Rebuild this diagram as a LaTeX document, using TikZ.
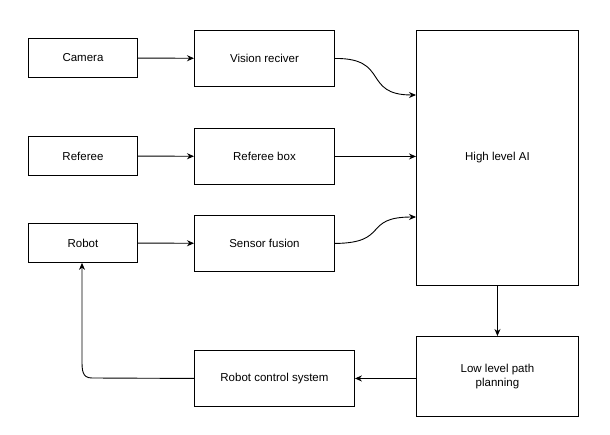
\documentclass[tikz,border=0pt]{standalone}
\usepackage{fontspec}
\setmainfont{Liberation Sans}
\usetikzlibrary{arrows.meta}
\begin{document}
\begin{tikzpicture}[x=1pt,y=-1pt,
  box/.style={draw,line width=0.9pt,anchor=north west,align=center,inner sep=0pt,font=\fontsize{11.5}{14}\selectfont},
  conn/.style={draw,line width=0.9pt,-{Stealth[length=7pt,width=6pt]}}]
\useasboundingbox (0,0) rectangle (610,435);
\node[box,minimum width=109,minimum height=39] (cam) at (28,38) {Camera};
\node[box,minimum width=109,minimum height=39] (ref) at (28,136) {Referee};
\node[box,minimum width=109,minimum height=39] (rob) at (28,223) {Robot};
\node[box,minimum width=140,minimum height=56] (vis) at (194,30) {Vision reciver};
\node[box,minimum width=140,minimum height=56] (rbox) at (194,128) {Referee box};
\node[box,minimum width=140,minimum height=56] (sen) at (194,215) {Sensor fusion};
\node[box,minimum width=162,minimum height=255] (ai) at (416,30) {High level AI};
\node[box,minimum width=162,minimum height=80] (ll) at (416,336) {Low level path\\planning};
\node[box,minimum width=160,minimum height=56] (rcs) at (194,350) {Robot control system};
\coordinate (aiA) at (416,95);
\coordinate (aiC) at (416,217);
\draw[conn] (cam) -- (vis);
\draw[conn] (ref) -- (rbox);
\draw[conn] (rob) -- (sen);
\draw[conn] (vis.east) .. controls (390,58) and (362,95) .. (aiA);
\draw[conn] (rbox.east) -- (rbox.east -| ai.west);
\draw[conn] (sen.east) .. controls (390,243) and (362,217) .. (aiC);
\draw[conn] (ai.south) -- (ll.north);
\draw[conn] (ll.west |- rcs.east) -- (rcs.east);
\draw[conn] (rcs.west) -- (92,378) .. controls (82,378) and (82,370) .. (82,360) -- (rob.south -| 82,0);
\end{tikzpicture}
\end{document}
